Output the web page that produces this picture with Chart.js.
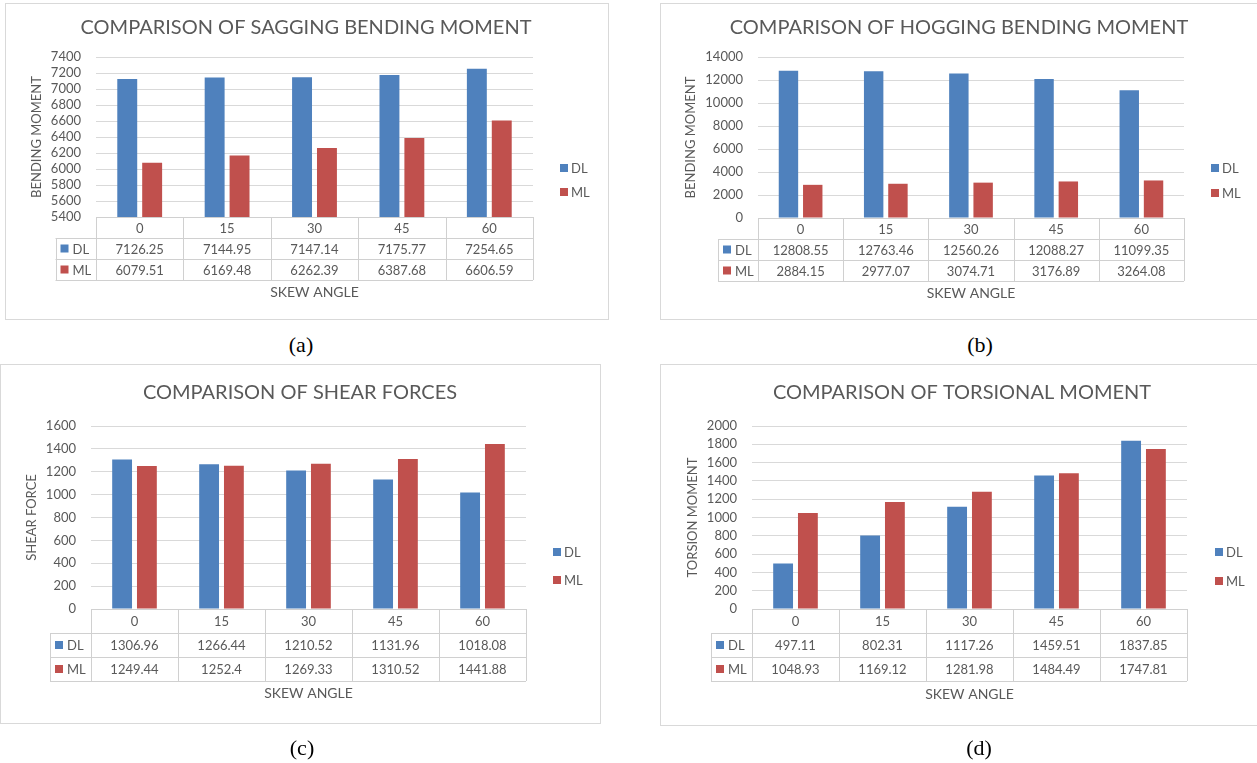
<!DOCTYPE html>
<html>
<head>
<meta charset="utf-8">
<script src="https://cdn.jsdelivr.net/npm/chart.js@4.4.1/dist/chart.umd.min.js"></script>
<style>
  body { margin: 0; background: #fff; }
  #page { position: relative; width: 1257px; height: 763px; overflow: hidden; background: #fff; }
  .frame { position: absolute; border: 1px solid #d9d9d9; box-sizing: border-box; }
  canvas { position: absolute; }
  .cap { position: absolute; font-family: 'Liberation Serif', 'Times New Roman', serif; font-size: 22px; color: #000; transform: translate(-50%, -50%); }
</style>
</head>
<body>
<div id="page">
  <div class="frame" style="left:5px;top:3px;width:604px;height:317px"></div>
  <div class="frame" style="left:660px;top:3px;width:640px;height:317px"></div>
  <div class="frame" style="left:0px;top:364px;width:601px;height:360px"></div>
  <div class="frame" style="left:660px;top:364px;width:640px;height:362px"></div>

  <canvas id="sagging" width="640" height="330" style="left:0;top:0"></canvas>
  <canvas id="hogging" width="617" height="330" style="left:640px;top:0"></canvas>
  <canvas id="shear" width="640" height="403" style="left:0;top:360px"></canvas>
  <canvas id="torsion" width="617" height="403" style="left:640px;top:360px"></canvas>

  <div class="cap" style="left:301px;top:345px">(a)</div>
  <div class="cap" style="left:980px;top:345px">(b)</div>
  <div class="cap" style="left:302px;top:748px">(c)</div>
  <div class="cap" style="left:979px;top:748px">(d)</div>
</div>

<script>
// data
const skewAngles = ['0', '15', '30', '45', '60'];

const saggingDL = [7126.25, 7144.95, 7147.14, 7175.77, 7254.65];
const saggingML = [6079.51, 6169.48, 6262.39, 6387.68, 6606.59];

const hoggingDL = [12808.55, 12763.46, 12560.26, 12088.27, 11099.35];
const hoggingML = [2884.15, 2977.07, 3074.71, 3176.89, 3264.08];

const shearDL = [1306.96, 1266.44, 1210.52, 1131.96, 1018.08];
const shearML = [1249.44, 1252.4, 1269.33, 1310.52, 1441.88];

const torsionDL = [497.11, 802.31, 1117.26, 1459.51, 1837.85];
const torsionML = [1048.93, 1169.12, 1281.98, 1484.49, 1747.81];

const BLUE = '#4f81bd';
const RED = '#c0504d';
const TEXT = '#595959';
const GRID = '#d9d9d9';
const FONT = 'Lato, "Open Sans", sans-serif';

Chart.defaults.font.family = FONT;
Chart.defaults.font.size = 13;
Chart.defaults.color = TEXT;

// draws title, y title, legend and the excel style data table
const excelTable = {
  id: 'excelTable',
  afterDraw(chart, args, o) {
    const ctx = chart.ctx;
    const a = chart.chartArea;
    const x = chart.scales.x;
    const n = chart.data.labels.length;
    const colW = a.width / n;
    const rh = o.rowH;
    const sets = chart.data.datasets;

    ctx.save();

    // chart title
    ctx.fillStyle = TEXT;
    ctx.textAlign = 'center';
    ctx.textBaseline = 'middle';
    ctx.font = '20px ' + FONT;
    ctx.fillText(o.title, o.titleX, o.titleY);

    // y axis title
    ctx.save();
    ctx.translate(o.yTitleX, (a.top + a.bottom) / 2);
    ctx.rotate(-Math.PI / 2);
    ctx.font = '13px ' + FONT;
    ctx.fillText(o.yTitle, 0, 0);
    ctx.restore();

    // table lines
    ctx.strokeStyle = '#d0d0d0';
    ctx.lineWidth = 1;
    ctx.beginPath();
    const t0 = Math.round(a.bottom) + 0.5;
    ctx.moveTo(a.left, t0); ctx.lineTo(a.right, t0);
    for (let r = 1; r <= sets.length + 1; r++) {
      const yy = Math.round(a.bottom + r * rh) + 0.5;
      ctx.moveTo(o.tableLeft, yy); ctx.lineTo(a.right, yy);
    }
    for (let c = 0; c <= n; c++) {
      const xx = Math.round(a.left + c * colW) + 0.5;
      ctx.moveTo(xx, a.bottom); ctx.lineTo(xx, a.bottom + (sets.length + 1) * rh);
    }
    const tl = Math.round(o.tableLeft) + 0.5;
    ctx.moveTo(tl, a.bottom + rh); ctx.lineTo(tl, a.bottom + (sets.length + 1) * rh);
    ctx.stroke();

    // header and values
    ctx.font = '13px ' + FONT;
    ctx.fillStyle = TEXT;
    chart.data.labels.forEach((lab, i) => {
      ctx.textAlign = 'center';
      ctx.fillText(lab, x.getPixelForValue(i), a.bottom + rh / 2 + 1);
      sets.forEach((ds, k) => {
        ctx.fillText(String(ds.data[i]), x.getPixelForValue(i), a.bottom + (k + 1.5) * rh + 1);
      });
    });

    // row labels
    sets.forEach((ds, k) => {
      const cy = a.bottom + (k + 1.5) * rh;
      ctx.fillStyle = ds.backgroundColor;
      ctx.fillRect(o.tableLeft + 5, cy - 4, 8, 8);
      ctx.fillStyle = TEXT;
      ctx.textAlign = 'left';
      ctx.fillText(ds.label, o.tableLeft + 17, cy + 1);
    });

    // legend
    sets.forEach((ds, k) => {
      const cy = o.legendY[k];
      ctx.fillStyle = ds.backgroundColor;
      ctx.fillRect(o.legendX, cy - 4, 8, 8);
      ctx.fillStyle = TEXT;
      ctx.textAlign = 'left';
      ctx.fillText(ds.label, o.legendX + 11, cy + 1);
    });

    // x axis title
    ctx.textAlign = 'center';
    ctx.font = '14px ' + FONT;
    ctx.fillText('SKEW ANGLE', (a.left + a.right) / 2, o.skewY);

    ctx.restore();
  }
};

function makeChart(id, dl, ml, yMin, yMax, yStep, pad, o) {
  return new Chart(document.getElementById(id), {
    type: 'bar',
    data: {
      labels: skewAngles,
      datasets: [
        { label: 'DL', data: dl, backgroundColor: BLUE, categoryPercentage: 0.57, barPercentage: 0.8 },
        { label: 'ML', data: ml, backgroundColor: RED, categoryPercentage: 0.57, barPercentage: 0.8 }
      ]
    },
    options: {
      responsive: false,
      animation: false,
      devicePixelRatio: 1,
      layout: { padding: pad },
      plugins: {
        legend: { display: false },
        tooltip: { enabled: false },
        excelTable: o
      },
      scales: {
        x: { display: false },
        y: {
          min: yMin,
          max: yMax,
          afterFit(s) { s.width = 64; },
          ticks: {
            stepSize: yStep,
            autoSkip: false,
            padding: 15,
            color: TEXT,
            font: { size: 13 },
            callback: v => String(v)
          },
          grid: { color: GRID, drawTicks: false },
          border: { display: false }
        }
      }
    },
    plugins: [excelTable]
  });
}

makeChart('sagging', saggingDL, saggingML, 5400, 7400, 200,
  { top: 57, right: 107, bottom: 113, left: 32 },
  { title: 'COMPARISON OF SAGGING BENDING MOMENT', titleX: 306, titleY: 28,
    yTitle: 'BENDING MOMENT', yTitleX: 37, rowH: 21, tableLeft: 55.5,
    legendX: 560, legendY: [168, 192], skewY: 292 });

makeChart('hogging', hoggingDL, hoggingML, 0, 14000, 2000,
  { top: 57, right: 73, bottom: 112, left: 54 },
  { title: 'COMPARISON OF HOGGING BENDING MOMENT', titleX: 319, titleY: 28,
    yTitle: 'BENDING MOMENT', yTitleX: 51, rowH: 21, tableLeft: 78,
    legendX: 571, legendY: [168, 193], skewY: 293 });

makeChart('shear', shearDL, shearML, 0, 1600, 200,
  { top: 66, right: 114, bottom: 154, left: 27 },
  { title: 'COMPARISON OF SHEAR FORCES', titleX: 300, titleY: 33,
    yTitle: 'SHEAR FORCE', yTitleX: 32, rowH: 24, tableLeft: 50,
    legendX: 553, legendY: [192, 220], skewY: 333 });

makeChart('torsion', torsionDL, torsionML, 0, 2000, 200,
  { top: 66, right: 70, bottom: 154, left: 48 },
  { title: 'COMPARISON OF TORSIONAL MOMENT', titleX: 322, titleY: 33,
    yTitle: 'TORSION MOMENT', yTitleX: 53, rowH: 24, tableLeft: 71,
    legendX: 575, legendY: [192, 221], skewY: 334 });
</script>
</body>
</html>
